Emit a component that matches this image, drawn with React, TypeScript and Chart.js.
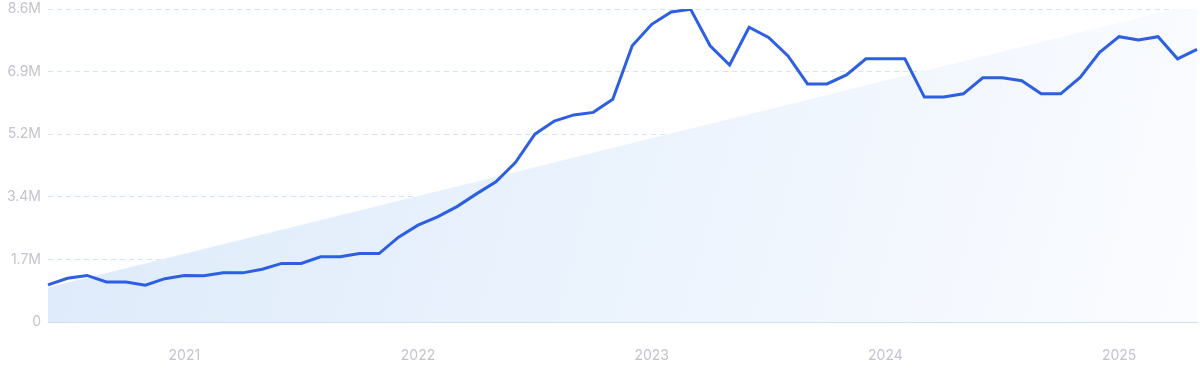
import React, { useEffect, useRef } from "react";
import { Chart, registerables } from "chart.js";

Chart.register(...registerables);

if (typeof document !== "undefined") {
  document.body.style.margin = "0";
}

const months: string[] = [
  "2020-06", "2020-07", "2020-08", "2020-09", "2020-10", "2020-11", "2020-12",
  "2021-01", "2021-02", "2021-03", "2021-04", "2021-05", "2021-06", "2021-07", "2021-08", "2021-09", "2021-10", "2021-11", "2021-12",
  "2022-01", "2022-02", "2022-03", "2022-04", "2022-05", "2022-06", "2022-07", "2022-08", "2022-09", "2022-10", "2022-11", "2022-12",
  "2023-01", "2023-02", "2023-03", "2023-04", "2023-05", "2023-06", "2023-07", "2023-08", "2023-09", "2023-10", "2023-11", "2023-12",
  "2024-01", "2024-02", "2024-03", "2024-04", "2024-05", "2024-06", "2024-07", "2024-08", "2024-09", "2024-10", "2024-11", "2024-12",
  "2025-01", "2025-02", "2025-03", "2025-04", "2025-05",
];

// values in millions
const searches: number[] = [
  1.02, 1.2, 1.28, 1.1, 1.1, 1.01, 1.19,
  1.28, 1.27, 1.35, 1.35, 1.45, 1.61, 1.61, 1.79, 1.79, 1.88, 1.88, 2.33,
  2.66, 2.89, 3.17, 3.52, 3.85, 4.38, 5.16, 5.52, 5.69, 5.76, 6.12, 7.59,
  8.18, 8.52, 8.59, 7.59, 7.06, 8.1, 7.82, 7.31, 6.54, 6.54, 6.79, 7.23,
  7.23, 7.23, 6.18, 6.18, 6.27, 6.71, 6.71, 6.63, 6.27, 6.27, 6.72, 7.41,
  7.84, 7.75, 7.84, 7.23, 7.49,
];

const trendStart = 0.95;
const trendEnd = 8.75;

const yMax = 8.6;
const yTickCount = 6;

export default function App() {
  const ref = useRef<HTMLCanvasElement | null>(null);

  useEffect(() => {
    document.body.style.margin = "0";
    const canvas = ref.current;
    if (!canvas) return;
    const M = 1e6;
    const chart = new Chart(canvas, {
      type: "line",
      data: {
        labels: months,
        datasets: [
          {
            label: "Searches",
            data: searches.map((v) => v * M),
            borderColor: "#2c5fe2",
            borderWidth: 3,
            pointRadius: 0,
            tension: 0,
            fill: false,
          },
          {
            label: "Trend",
            data: [
              { x: months[0], y: trendStart * M },
              { x: months[months.length - 1], y: trendEnd * M },
            ] as any,
            borderWidth: 0,
            borderColor: "rgba(0,0,0,0)",
            pointRadius: 0,
            fill: "origin",
            backgroundColor: (ctx: any) => {
              const c = ctx.chart;
              const a = c.chartArea;
              if (!a) return "rgba(220,234,250,1)";
              const g = c.ctx.createLinearGradient(a.left, a.top, a.right, a.bottom);
              g.addColorStop(0, "rgba(221,234,250,1)");
              g.addColorStop(0.5, "rgba(235,243,253,1)");
              g.addColorStop(1, "rgba(251,252,255,1)");
              return g;
            },
          },
        ],
      },
      options: {
        animation: false,
        responsive: false,
        maintainAspectRatio: false,
        layout: { padding: { top: 9, right: 3, left: 0, bottom: 0 } },
        plugins: {
          legend: { display: false },
          tooltip: { enabled: false },
        },
        scales: {
          x: {
            type: "category",
            grid: { display: false, drawTicks: false },
            border: { display: true, color: "#cce3f7", width: 1 },
            ticks: {
              autoSkip: false,
              maxRotation: 0,
              padding: 25,
              color: "#c3c4cc",
              font: { family: "Inter", size: 14 },
              callback: (_v: any, i: number) => {
                const m = months[i];
                return m.endsWith("-01") ? m.slice(0, 4) : "";
              },
            },
            afterFit: (s: any) => {
              s.height = 49;
              s.paddingLeft = 0;
              s.paddingRight = 0;
            },
          },
          y: {
            min: 0,
            max: yMax * M,
            grid: {
              color: "#d2e4f6",
              drawTicks: false,
            },
            border: { display: false, dash: [5, 4] },
            ticks: {
              count: yTickCount,
              padding: 7,
              color: "#c3c4cc",
              font: { family: "Inter", size: 14 },
              callback: (v: any) => {
                const n = Number(v);
                if (n === 0) return "0";
                return (n / M).toFixed(1) + "M";
              },
            },
            afterFit: (s: any) => {
              s.width = 48;
              s.paddingTop = 0;
              s.paddingBottom = 0;
            },
          },
        },
      },
    });
    return () => chart.destroy();
  }, []);

  return (
    <div style={{ width: 1200, height: 371, position: "relative" }}>
      <canvas ref={ref} width={1200} height={371} style={{ display: "block" }} />
    </div>
  );
}
